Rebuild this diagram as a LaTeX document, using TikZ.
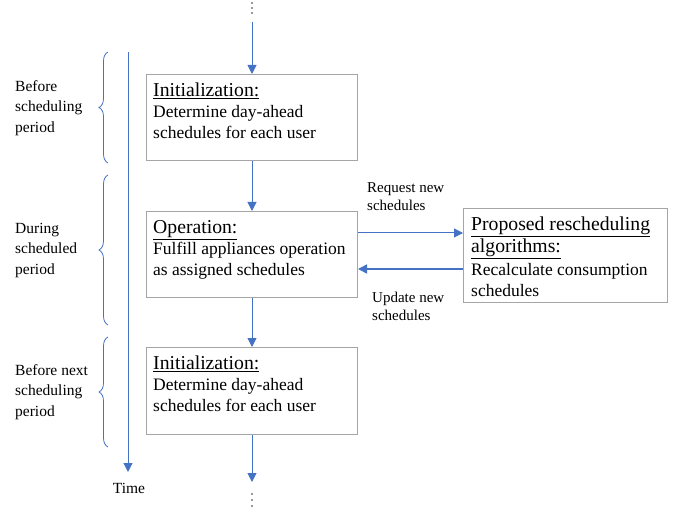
\documentclass[tikz,border=0pt]{standalone}
\usepackage{fontspec}
\setmainfont{Liberation Serif}
\usetikzlibrary{arrows.meta,decorations.pathreplacing}
\definecolor{ablue}{RGB}{68,114,196}
\definecolor{bgray}{RGB}{165,165,165}
\tikzset{
  px/.style={x=1pt,y=-1pt},
  box/.style={draw=bgray,line width=1pt,anchor=north west,inner sep=0pt},
  flow/.style={draw=ablue,line width=1pt,-{Triangle[length=9pt,width=9pt]}},
  lbl/.style={font=\fontsize{15}{18}\selectfont,align=left,anchor=north west,inner sep=0pt},
  side/.style={font=\fontsize{15.5}{20.5}\selectfont,align=left,anchor=north west,inner sep=0pt},
  body/.style={font=\fontsize{17.5}{21}\selectfont,align=left,anchor=north west,inner sep=0pt},
  brc/.style={draw=ablue,line width=0.8pt,decorate,decoration={brace,amplitude=9pt,aspect=0.5}},
  dot/.style={fill=black!80,circle,inner sep=0pt,minimum size=1.8pt},
}
\newcommand{\ttl}[1]{{\fontsize{19.7}{23}\selectfont\underline{#1}}}
\begin{document}
\begin{tikzpicture}[px]
\useasboundingbox (0,0) rectangle (683,513);
% boxes
\node[box,minimum width=211pt,minimum height=86pt] (b1) at (146,74) {};
\node[box,minimum width=211pt,minimum height=86pt] (b2) at (146,211) {};
\node[box,minimum width=211pt,minimum height=87pt] (b3) at (146,347) {};
\node[box,minimum width=204pt,minimum height=94pt] (b4) at (463,208) {};
% texts
\node[body] (t1) at (153,83) {\ttl{Initialization:}\\Determine day-ahead\\schedules for each user};
\node[body] (t2) at (153,220) {\ttl{Operation:}\\Fulfill appliances operation\\as assigned schedules};
\node[body] (t3) at (153,356) {\ttl{Initialization:}\\Determine day-ahead\\schedules for each user};
\node[body] (t4) at (471,217) {\ttl{Proposed rescheduling}\\[1pt]\ttl{algorithms:}\\[2pt]Recalculate consumption\\schedules};
% dots
\node[dot] (d1) at (252,3) {};
\node[dot] (d2) at (252,8) {};
\node[dot] (d3) at (252,13) {};
\node[dot] (d4) at (252,494) {};
\node[dot] (d5) at (252,500) {};
\node[dot] (d6) at (252,506) {};
% vertical flow
\coordinate (a0) at (252,22);
\coordinate (a4) at (252,482);
\draw[flow] (a0) -- (b1.north);
\draw[flow] (b1.south) -- (b2.north);
\draw[flow] (b2.south) -- (b3.north);
\draw[flow] (b3.south) -- (a4);
% horizontal arrows
\draw[flow] (b2.east |- 0,233) -- (b4.west |- 0,233);
\draw[flow,line width=1.6pt] (b4.west |- 0,269) -- (b2.east |- 0,269);
\node[lbl] (req) at (367,182) {Request new\\schedules};
\node[lbl] (upd) at (372,292) {Update new\\schedules};
% time axis
\coordinate (ts) at (128,52);
\coordinate (te) at (128,472);
\draw[flow] (ts) -- (te);
\node[font=\fontsize{15.5}{17}\selectfont,inner sep=0pt] (time) at (129,488) {Time};
% braces
\draw[brc] (108,163) -- (108,52);
\draw[brc] (108,325) -- (108,175);
\draw[brc] (108,447) -- (108,337);
\node[side] (l1) at (15,80) {Before\\scheduling\\period};
\node[side] (l2) at (15,223) {During\\scheduled\\period};
\node[side] (l3) at (15,364) {Before next\\scheduling\\period};
\end{tikzpicture}
\end{document}
